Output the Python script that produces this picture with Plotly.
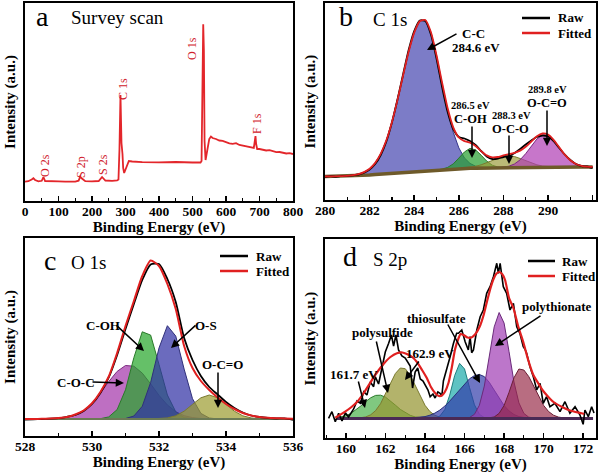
import plotly.graph_objects as go

# ---------------- DATA ----------------
# (a) survey scan
survey_ev = [0,10,20,25,30,40,50,55,60,80,100,120,150,160,165,170,180,200,220,230,240,260,275,279,282,285,288,291,293,296,
             300,305,310,320,350,400,450,500,520,524,527,530,532,534,536,539,545,550,555,560,570,580,590,600,610,620,630,640,650,660,
             670,675,683,686,688,690,693,700,710,720,730,740,750,760,770,780,790,800]
survey_int = [19.3,19.8,21.5,22.7,21,19.7,20.2,24,20,19.5,19.6,19.3,19.4,20.3,24.3,22.5,19.8,19.6,20,24,20.5,20.2,20.6,21.5,52,106,58,47,33,28,
              31.5,37.5,40,39.5,38.8,38.6,39,38.5,38.3,38.5,40,150,176.7,150,60,41,52,62,64.5,63,62,60.5,60.2,59,57.6,57.2,57.8,56,55.2,54.5,
              54.2,53.5,53,60,65,57,52,52,51.5,50.5,50.8,50,48.8,49,48.4,47.5,47.8,47]
survey_labels = ["O 2s", "S 2p", "S 2s", "C 1s", "O 1s", "F 1s"]

# (b) C 1s
c1s_ev = [280,280.25,280.5,280.75,281,281.25,281.5,281.75,282,282.25,282.5,282.75,283,283.25,283.5,283.75,284,284.25,284.5,284.75,
          285,285.25,285.5,285.75,286,286.25,286.5,286.75,287,287.25,287.5,287.75,288,288.25,288.5,288.75,289,289.25,289.5,289.75,
          290,290.25,290.5,290.75,291,291.25,291.5,291.75,292]
c1s_base = [23.5,23.6,23.7,23.9,24.0,24.3,24.5,24.8,25.0,25.4,25.8,26.1,26.5,27.0,27.4,27.9,28.3,28.7,29.2,29.6,30.0,30.4,30.8,31.1,
            31.5,31.6,31.7,31.8,31.9,32.0,32.0,32.1,32.2,32.2,32.3,32.3,32.4,32.4,32.5,32.5,32.6,32.6,32.7,32.7,32.8,32.8,32.9,32.9,33.0]
c1s_cc = [0,0,0,0,0.2,0.6,1.4,3.1,6.2,11.7,20.6,33.6,51.3,73.1,97.0,120.3,139.1,150.1,150.8,138.1,114.7,86.4,59.1,36.6,20.6,10.5,4.9,2.0,0.8,0.3,
          0,0,0,0,0,0,0,0,0,0,0,0,0,0,0,0,0,0,0]
c1s_coh = [0,0,0,0,0,0,0,0,0,0,0,0,0,0,0,0,0,0,0,0,0,0.5,1.8,5.0,10.4,16.4,19.9,18.3,12.9,6.9,2.8,0.9,0.2,
           0,0,0,0,0,0,0,0,0,0,0,0,0,0,0,0]
c1s_oco = [0,0,0,0,0,0,0,0,0,0,0,0,0,0,0,0,0,0,0,0,0,0,0,0,0,0.4,0.9,1.9,3.3,5.4,7.8,10.0,11.6,12.0,11.1,9.2,6.8,4.5,2.7,1.4,0.7,0.3,
           0,0,0,0,0,0,0]
c1s_ocdo = [0,0,0,0,0,0,0,0,0,0,0,0,0,0,0,0,0,0,0,0,0,0,0,0,0,0,0,0,0,0,0,0,0.6,1.6,3.8,7.9,14.0,21.6,28.5,32.6,32.1,27.3,20.0,12.6,6.9,3.2,1.3,0.5,0.1]
c1s_fit = [23.5,23.6,23.7,23.9,24.2,24.9,25.9,27.9,31.2,37.1,46.4,59.7,77.8,100.1,124.4,148.2,167.4,178.8,180.0,167.7,144.7,117.3,91.7,72.7,
           62.5,58.9,57.4,54.0,48.9,44.6,42.6,43.0,44.6,45.8,47.2,49.4,53.2,58.5,63.7,66.5,65.4,60.2,52.7,45.3,39.7,36.0,34.2,33.4,33.1]
c1s_raw = [23.0,23.8,23.2,24.1,23.9,24.6,25.5,27.2,30.5,36.0,45.0,58.5,77.5,100.5,125.5,150.0,169.0,179.5,179.0,165.5,141.5,113.0,88.0,71.0,
           63.0,61.5,59.0,55.0,49.0,43.5,41.0,41.5,43.0,44.0,47.0,51.0,55.5,59.5,63.0,64.5,63.5,59.0,52.0,45.5,40.0,36.0,34.0,33.5,32.0]

# (c) O 1s
o1s_ev = [528,528.25,528.5,528.75,529,529.25,529.5,529.75,530,530.25,530.5,530.75,531,531.25,531.5,531.75,532,532.25,532.5,532.75,
          533,533.25,533.5,533.75,534,534.25,534.5,534.75,535,535.25,535.5,535.75,536]
o1s_base = 17.0
o1s_coc = [0,0,0,0.2,0.6,1.6,4.0,8.4,15.7,25.8,37.4,47.6,53.5,52.8,45.9,35.1,23.6,14.0,7.3,3.3,1.4,0.5,0,0,0,0,0,0,0,0,0,0,0]
o1s_coh = [0,0,0,0,0,0,0,0,0,0.3,2.1,9.4,29.2,61.4,87.2,83.9,54.6,24.0,7.2,1.4,0.2,0,0,0,0,0,0,0,0,0,0,0,0]
o1s_os = [0,0,0,0,0,0,0,0,0,0,0,0,0.5,3.0,12.7,36.5,71.0,93.3,82.9,49.9,20.3,5.6,1.0,0.1,0,0,0,0,0,0,0,0,0]
o1s_ocdo = [0,0,0,0,0,0,0,0,0,0,0,0,0,0,0,0,0.3,1.1,3.2,7.8,14.6,21.2,24.0,21.2,14.6,7.8,3.2,1.1,0.3,0,0,0,0]
o1s_fit = [17,17,17.2,17.5,18,19,21.5,25.5,32.7,44,59.5,83,110,135,160,175.5,170,152,127,90,68,55,46,38.5,32,27,23,20.5,19,18.2,17.8,17.5,17.3]
o1s_raw = [16.3,16.7,17.0,17.3,17.8,19.2,21.0,25.0,32.0,43.0,58.5,81.0,107.0,132.0,156.0,171.5,172.0,157.0,134.0,98.0,76.0,60.0,49.0,41.5,
           34.0,28.0,23.5,20.5,19.0,18.0,17.5,17.6,16.2]

# (d) S 2p
s2p_ev = [159.5,159.75,160,160.25,160.5,160.75,161,161.25,161.5,161.75,162,162.25,162.5,162.75,163,163.25,163.5,163.75,164,164.25,
          164.5,164.75,165,165.25,165.5,165.75,166,166.25,166.5,166.75,167,167.25,167.5,167.75,168,168.25,168.5,168.75,169,169.25,
          169.5,169.75,170,170.25,170.5,170.75,171,171.25,171.5,171.75,172,172.25,172.5]
s2p_base = 19.5
s2p_green = [0.6,1.4,2.8,5.1,8.4,12.5,16.9,20.7,23.1,23.3,21.4,17.7,13.4,9.1,5.7,3.2,1.6,0.7,0.3] + [0]*34
s2p_olive = [0,0,0,0,0,0.6,1.6,3.7,7.9,14.8,24.4,35.3,45.0,50.5,49.8,43.3,33.2,22.3,13.2,6.9,3.2,1.3,0.5] + [0]*30
s2p_teal = [0]*20 + [0.4,2.4,8.9,23.4,42.9,55.1,49.5,31.1,13.7,4.2,0.9,0.1] + [0]*21
s2p_blue = [0]*15 + [0.3,0.6,1.1,1.9,3.3,5.4,8.4,12.4,17.4,23.1,29.1,34.9,39.7,42.9,44.0,41.9,36.2,28.4,20.1,13.0,7.6,4.0,1.9,0.8,0.3] + [0]*13
s2p_purple = [0]*26 + [0.2,1.0,4.2,13.2,32.4,61.7,91.6,106.0,95.4,66.9,36.5,15.6,5.1,1.3,0.3] + [0]*12
s2p_maroon = [0]*31 + [0.4,1.5,5.1,13.0,26.1,40.7,49.5,48.5,41.9,32.1,21.8,13.1,7.0,3.3,1.4,0.5] + [0]*6
s2p_raw_ev = [159.12,159.29,159.46,159.63,159.8,159.97,160.13,160.39,160.56,160.73,160.9,161.06,161.23,161.4,161.48,161.65,161.82,161.99,
              162.16,162.3,162.41,162.53,162.66,162.83,163.0,163.12,163.25,163.37,163.5,163.63,163.76,163.9,164.01,164.15,164.26,164.4,
              164.51,164.65,164.76,164.85,164.93,165.1,165.27,165.44,165.6,165.69,165.86,166.03,166.19,166.28,166.36,166.45,166.62,166.79,
              166.95,167.12,167.29,167.46,167.63,167.71,167.8,167.96,168.13,168.3,168.47,168.64,168.8,168.97,169.06,169.14,169.31,169.48,
              169.65,169.82,169.98,170.15,170.32,170.57,170.83,171.08,171.33,171.59,171.84,172.0,172.09,172.26,172.43,172.55]
s2p_raw = [19.7,26.3,16.3,24.7,17,25.3,21,29,37,34.7,46.3,43,56,51.3,61.3,54,70,86,
           94.7,103,92,103,88,82,80,76,72,50,66,70,59,57,53,48,41.3,44,
           40,46,44.7,42,57,68,81.3,94.7,104.7,104.7,108,96.3,88,101.3,85.3,88,108,121.3,
           128,144.7,151.3,161.3,174.7,164.7,174.7,151.3,144.7,128,134.7,111.3,104.7,91.3,88.7,84.7,71.3,61.3,
           48,54.7,34.7,41.3,31.3,34.7,26.3,36.3,24.7,31.3,23,13.7,28,21.3,31.3,25]
s2p_fit_ev = [159.46,159.88,160.25,160.56,160.9,161.23,161.55,161.9,162.25,162.58,162.85,163.08,163.35,163.59,163.85,164.09,164.3,164.51,
              164.7,164.85,165.0,165.19,165.35,165.52,165.7,165.8,165.95,166.15,166.35,166.55,166.78,166.95,167.12,167.3,167.46,167.62,
              167.76,167.9,168.05,168.25,168.47,168.72,168.97,169.22,169.48,169.73,169.98,170.23,170.5,170.91,171.33,171.92,172.05]
s2p_fit = [20.3,25.3,30.5,36,45,55.3,65,74,81,84.7,85.5,84,81,76,68,60,51,45,
           42,42.5,46,55.3,70,88.7,100,104,103,100.5,100.5,104,112,122,135.3,149,158.7,164.5,
           166,164,158,140,130,111.3,96,78,63,54.7,47,41.3,36,31.3,27.5,24.7,24]

# ---------------- HELPERS ----------------
W, H = 600, 473
SERIF = "Liberation Serif"


def P(px, py):
    return px / W, 1 - py / H


def comp(xs, base, h, fill, line, xa, ya):
    n = len(xs)
    idx = [i for i in range(n) if h[i] > 0]
    lo, hi = max(idx[0] - 1, 0), min(idx[-1] + 1, n - 1)
    sel = list(range(lo, hi + 1))
    b = [(base[i] if isinstance(base, list) else base) for i in sel]
    top = [b[k] + h[i] for k, i in enumerate(sel)]
    x = [xs[i] for i in sel] + [xs[i] for i in reversed(sel)]
    y = top + b[::-1]
    return go.Scatter(x=x, y=y, fill="toself", fillcolor=fill, mode="lines",
                      line=dict(color=line, width=1), hoverinfo="skip",
                      showlegend=False, xaxis=xa, yaxis=ya)


def line(x, y, color, width, xa, ya, shape="linear"):
    return go.Scatter(x=x, y=y, mode="lines", line=dict(color=color, width=width, shape=shape,
                      smoothing=0.6 if shape == "spline" else None),
                      hoverinfo="skip", showlegend=False, xaxis=xa, yaxis=ya)


traces = []
# (a)
traces.append(line(survey_ev, survey_int, "#e3262b", 1.8, "x", "y"))

# (b)
traces.append(comp(c1s_ev, c1s_base, c1s_cc, "rgba(80,80,180,0.75)", "#34348a", "x2", "y2"))
traces.append(comp(c1s_ev, c1s_base, c1s_coh, "rgba(40,160,50,0.72)", "#2a7a2a", "x2", "y2"))
traces.append(comp(c1s_ev, c1s_base, c1s_oco, "rgba(155,155,55,0.68)", "#7a7a30", "x2", "y2"))
traces.append(comp(c1s_ev, c1s_base, c1s_ocdo, "rgba(175,60,180,0.7)", "#7a2a80", "x2", "y2"))
traces.append(line(c1s_ev, c1s_base, "#6e5a2a", 3.5, "x2", "y2"))
traces.append(line(c1s_ev, c1s_raw, "black", 1.8, "x2", "y2", "spline"))
traces.append(line(c1s_ev, c1s_fit, "#e02020", 1.8, "x2", "y2", "spline"))

# (c)
traces.append(comp(o1s_ev, o1s_base, o1s_coc, "rgba(165,55,170,0.72)", "#7a2a80", "x3", "y3"))
traces.append(comp(o1s_ev, o1s_base, o1s_coh, "rgba(35,165,40,0.7)", "#2a7a2a", "x3", "y3"))
traces.append(comp(o1s_ev, o1s_base, o1s_os, "rgba(50,50,165,0.72)", "#30307a", "x3", "y3"))
traces.append(comp(o1s_ev, o1s_base, o1s_ocdo, "rgba(155,155,45,0.7)", "#7a7a30", "x3", "y3"))
traces.append(line([o1s_ev[0], o1s_ev[-1]], [o1s_base, o1s_base], "#6b7a55", 2, "x3", "y3"))
traces.append(line(o1s_ev, o1s_raw, "black", 1.8, "x3", "y3", "spline"))
traces.append(line(o1s_ev, o1s_fit, "#e02020", 2, "x3", "y3", "spline"))

# (d)
traces.append(comp(s2p_ev, s2p_base, s2p_green, "rgba(60,170,60,0.65)", "#2a7a2a", "x4", "y4"))
traces.append(comp(s2p_ev, s2p_base, s2p_olive, "rgba(150,150,50,0.72)", "#7a7a30", "x4", "y4"))
traces.append(comp(s2p_ev, s2p_base, s2p_teal, "rgba(40,175,175,0.75)", "#1f7f7f", "x4", "y4"))
traces.append(comp(s2p_ev, s2p_base, s2p_blue, "rgba(50,60,170,0.7)", "#2a307a", "x4", "y4"))
traces.append(comp(s2p_ev, s2p_base, s2p_purple, "rgba(160,60,180,0.7)", "#6a2a7a", "x4", "y4"))
traces.append(comp(s2p_ev, s2p_base, s2p_maroon, "rgba(150,40,70,0.68)", "#6a1f35", "x4", "y4"))
traces.append(line([s2p_ev[0], s2p_ev[-1]], [s2p_base, s2p_base], "#4a2a55", 3, "x4", "y4"))
traces.append(line(s2p_raw_ev, s2p_raw, "black", 1.6, "x4", "y4"))
traces.append(line(s2p_fit_ev, s2p_fit, "#e02020", 2.2, "x4", "y4", "spline"))

fig = go.Figure(traces)

tickfont = dict(family=SERIF, size=13.5, color="black", weight="bold")
titlefont = dict(family=SERIF, size=15, color="black", weight="bold")


def xax(dom, rng, dtick, mdtick, anchor, tick0):
    return dict(domain=dom, range=rng, anchor=anchor, showline=True, linewidth=2, linecolor="black",
                mirror=True, ticks="inside", ticklen=5, tickwidth=1.5, tickcolor="black",
                tick0=tick0, dtick=dtick, automargin=False, ticklabelstandoff=-3,
                minor=dict(ticks="inside", ticklen=3, tickwidth=1.2, tickcolor="black", dtick=mdtick, tick0=tick0),
                showgrid=False, zeroline=False, tickfont=tickfont,
                title=dict(text="Binding Energy (eV)", font=titlefont, standoff=0))


def yax(dom, hgt, anchor):
    return dict(domain=dom, range=[0, hgt], anchor=anchor, showline=True, linewidth=2, linecolor="black",
                mirror=True, ticks="", showticklabels=False, showgrid=False, zeroline=False, automargin=False,
                title=dict(text="Intensity (a.u.)", font=titlefont, standoff=4))


fig.update_layout(
    width=W, height=H, margin=dict(l=0, r=0, t=0, b=0),
    paper_bgcolor="white", plot_bgcolor="white", showlegend=False,
    xaxis=xax([25 / W, 293 / W], [0, 800], 100, 50, "y", 0),
    yaxis=yax([1 - 201 / H, 1 - 3 / H], 198, "x"),
    xaxis2=xax([325 / W, 596 / W], [280, 292.15], 2, 1, "y2", 280),
    yaxis2=yax([1 - 200 / H, 1 - 3 / H], 197, "x2"),
    xaxis3=xax([25 / W, 293 / W], [528, 536], 2, 1, "y3", 528),
    yaxis3=yax([1 - 436 / H, 1 - 238 / H], 198, "x3"),
    xaxis4=xax([325 / W, 596 / W], [158.94, 172.65], 2, 1, "y4", 160),
    yaxis4=yax([1 - 438 / H, 1 - 239 / H], 199, "x4"),
)

ann = []


def text(px, py, s, size=13, bold=True, color="black", angle=0, xanchor="center"):
    x, y = P(px, py)
    ann.append(dict(x=x, y=y, xref="paper", yref="paper", text=s, showarrow=False, textangle=angle,
                    xanchor=xanchor, yanchor="middle",
                    font=dict(family=SERIF, size=size, color=color, weight="bold" if bold else "normal")))


def arrow(tx, ty, hx, hy):
    x, y = P(hx, hy)
    ann.append(dict(x=x, y=y, xref="paper", yref="paper", text="", showarrow=True,
                    ax=tx - hx, ay=ty - hy, arrowhead=2, arrowsize=1.1, arrowwidth=1.5,
                    arrowcolor="black", standoff=0))


# panel letters and titles
text(42, 17, "a", 28, False)
text(117, 18, "Survey scan", 19, False)
text(346, 16, "b", 28, False)
text(390, 19, "C 1s", 19, False)
text(50, 260, "c", 28, False)
text(88, 262, "O 1s", 19, False)
text(350, 256, "d", 28, False)
text(390, 259, "S 2p", 19, False)

# survey peak labels
for (px, py), s in zip([(45, 166), (81, 167), (103, 165), (123, 89), (192, 49), (257, 124)], survey_labels):
    text(px, py, s, 12, False, "#d0202a", -90)

# panel b labels
text(473, 33, "C-C")
text(476, 47, "284.6 eV")
arrow(458, 33, 427, 50)
text(470, 106, "286.5 eV", 10.5)
text(470, 119, "C-OH", 12.5)
arrow(472, 125, 472, 158)
text(511, 115.5, "288.3 eV", 10.5)
text(510, 128.5, "O-C-O", 12.5)
arrow(509, 134, 509, 164)
text(547, 90, "289.8 eV", 10.5)
text(547, 103, "O-C=O", 12.5)
arrow(547, 109, 547, 146)

# panel c labels
text(103, 325, "C-OH")
arrow(115, 324, 144, 351)
text(206, 325, "O-S")
arrow(197, 324, 171, 348)
text(76, 382, "C-O-C")
arrow(91, 382, 124, 383)
text(222, 364, "O-C=O")
arrow(218, 371, 218, 408)

# panel d labels
text(382, 332, "polysulfide")
arrow(376, 340, 388, 393)
text(354, 374, "161.7 eV")
arrow(358, 380, 365, 408)
text(430, 353, "162.9 eV")
arrow(420, 360, 405, 380)
text(436, 318, "thiosulfate")
arrow(447, 323, 480, 383)
text(557, 306, "polythionate")
arrow(542, 315, 495, 346)

# legends (b, c, d)
shapes = []


def legend(x0, x1, ytop, tx):
    for (py, col, lab) in [(ytop, "black", "Raw"), (ytop + 15, "#e02020", "Fitted")]:
        a0 = P(x0, py)
        a1 = P(x1, py)
        shapes.append(dict(type="line", xref="paper", yref="paper", x0=a0[0], y0=a0[1], x1=a1[0], y1=a1[1],
                           line=dict(color=col, width=2.5)))
        text(tx, py, lab, 13, True, "black", 0, "left")


legend(522, 550, 18, 556)
legend(220, 248, 256, 254)
legend(528, 555, 261, 560)

fig.update_layout(annotations=ann, shapes=shapes)
fig.write_html("out.html", config={"displayModeBar": False, "staticPlot": True},
               post_script="document.body.style.margin='0';document.body.style.padding='0';document.body.style.overflow='hidden';")
